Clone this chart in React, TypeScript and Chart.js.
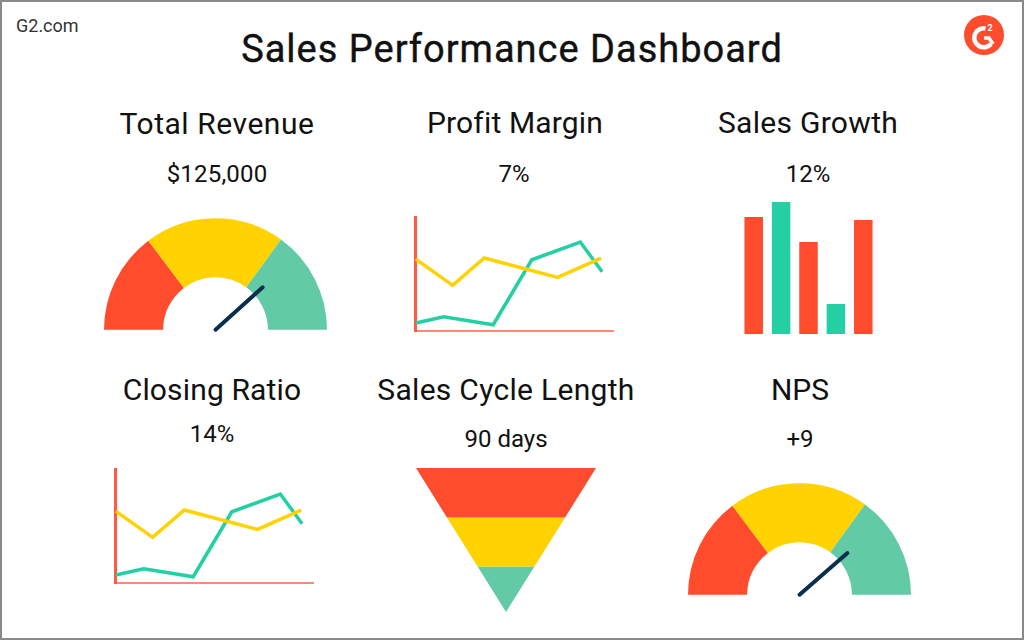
import { useEffect, useRef } from 'react'
import { Chart, registerables } from 'chart.js'
import type { ChartConfiguration, Plugin } from 'chart.js'

Chart.register(...registerables)

const RED = '#ff4c2d'
const YELLOW = '#ffd200'
const GAUGE_GREEN = '#62cba6'
const LINE_GREEN = '#24cfa3'
const NAVY = '#0c2e4e'
const FONT = 'Roboto, sans-serif'

// gauge segments, in degrees of the half circle
const revenueGauge = [53, 73, 54]
const revenueNeedle = 138
const npsGauge = [53, 73, 54]
const npsNeedle = 139

// x is 0-100 along the axis, y is 0-100 up the axis
const marginYellowX = [0.4, 19, 35, 72, 94]
const marginYellowY = [63, 40, 64, 47, 64]
const marginGreenX = [0.4, 14.5, 39.5, 59, 83.5, 94.5]
const marginGreenY = [7, 12.5, 5.5, 62.5, 78, 52]

const closingYellowX = [0.4, 19, 35, 72, 94]
const closingYellowY = [63, 40, 64, 47, 64]
const closingGreenX = [0.4, 14.5, 39.5, 59, 83.5, 94.5]
const closingGreenY = [7, 12.5, 5.5, 62.5, 78, 52]

const growthCategories = ['A', 'B', 'C', 'D', 'E']
const growthValues = [117, 132, 92, 30, 114]
const growthColors = [RED, LINE_GREEN, RED, LINE_GREEN, RED]

// remaining width of the funnel at each stage edge
const funnelLevels = [100, 65.6, 31.6, 0]
const funnelColors = [RED, YELLOW, GAUGE_GREEN]

const headings = ['Total Revenue', 'Profit Margin', 'Sales Growth', 'Closing Ratio', 'Sales Cycle Length', 'NPS']
const figures = ['$125,000', '7%', '12%', '14%', '90 days', '+9']

const needlePlugin: Plugin<'doughnut'> = {
  id: 'needle',
  afterDatasetsDraw(chart, _args, opts: any) {
    const arc: any = chart.getDatasetMeta(0).data[0]
    const angle = Math.PI + (opts.value / 180) * Math.PI
    const ctx = chart.ctx
    ctx.save()
    ctx.strokeStyle = NAVY
    ctx.lineWidth = 4
    ctx.lineCap = 'round'
    ctx.beginPath()
    ctx.moveTo(arc.x, arc.y)
    ctx.lineTo(arc.x + Math.cos(angle) * 63.5, arc.y + Math.sin(angle) * 63.5)
    ctx.stroke()
    ctx.restore()
  },
}

function gaugeConfig(values: number[], needle: number): ChartConfiguration<'doughnut'> {
  return {
    type: 'doughnut',
    data: {
      labels: ['Low', 'Mid', 'High'],
      datasets: [{ data: values, backgroundColor: [RED, YELLOW, GAUGE_GREEN], borderWidth: 0 }],
    },
    options: {
      responsive: false,
      animation: false,
      events: [],
      rotation: -90,
      circumference: 180,
      cutout: '47%',
      layout: { padding: { bottom: 4 } },
      plugins: { legend: { display: false }, tooltip: { enabled: false }, needle: { value: needle } } as any,
    },
    plugins: [needlePlugin],
  }
}

function pairs(xs: number[], ys: number[]) {
  return xs.map((x, i) => ({ x, y: ys[i] }))
}

function linesConfig(yellowX: number[], yellowY: number[], greenX: number[], greenY: number[]): ChartConfiguration<'scatter'> {
  const series = (data: { x: number; y: number }[], color: string) => ({
    data,
    showLine: true,
    borderColor: color,
    borderWidth: 3.5,
    pointRadius: 0,
    tension: 0,
    clip: false as any,
  })
  return {
    type: 'scatter',
    data: {
      datasets: [series(pairs(yellowX, yellowY), YELLOW), series(pairs(greenX, greenY), LINE_GREEN)],
    },
    options: {
      responsive: false,
      animation: false,
      events: [],
      layout: { padding: { left: 10, right: 10, top: 7, bottom: 7 } },
      plugins: { legend: { display: false }, tooltip: { enabled: false } },
      scales: {
        x: {
          min: 0,
          max: 100,
          grid: { display: false, drawTicks: false },
          ticks: { display: false },
          border: { color: '#ff8a78', width: 2 },
        },
        y: {
          min: 0,
          max: 100,
          grid: { display: false, drawTicks: false },
          ticks: { display: false },
          border: { color: '#ff5a46', width: 3 },
        },
      },
    },
  }
}

function barConfig(): ChartConfiguration<'bar'> {
  return {
    type: 'bar',
    data: {
      labels: growthCategories,
      datasets: [{
        data: growthValues,
        backgroundColor: growthColors,
        barPercentage: 0.675,
        categoryPercentage: 1,
      }],
    },
    options: {
      responsive: false,
      animation: false,
      events: [],
      plugins: { legend: { display: false }, tooltip: { enabled: false } },
      scales: {
        x: { display: false },
        y: { display: false, min: 0, max: 140 },
      },
    },
  }
}

function funnelConfig(): ChartConfiguration<'scatter'> {
  const datasets = funnelColors.map((color, i) => {
    const a = funnelLevels[i]
    const b = funnelLevels[i + 1]
    return {
      data: [
        { x: -a, y: a },
        { x: a, y: a },
        { x: b, y: b },
        { x: -b, y: b },
        { x: -a, y: a },
      ],
      showLine: true,
      fill: 'shape' as any,
      backgroundColor: color,
      borderWidth: 0,
      pointRadius: 0,
      tension: 0,
    }
  })
  return {
    type: 'scatter',
    data: { datasets },
    options: {
      responsive: false,
      animation: false,
      events: [],
      plugins: { legend: { display: false }, tooltip: { enabled: false } },
      scales: {
        x: { display: false, min: -100, max: 100 },
        y: { display: false, min: 0, max: 100 },
      },
    },
  }
}

function ChartBox({ left, top, width, height, config }: { left: number; top: number; width: number; height: number; config: () => ChartConfiguration<any> }) {
  const ref = useRef<HTMLCanvasElement>(null)

  useEffect(() => {
    if (!ref.current) return
    const chart = new Chart(ref.current, config())
    return () => chart.destroy()
  }, [config])

  return <canvas ref={ref} width={width} height={height} style={{ position: 'absolute', left, top, width, height }} />
}

function Label({ text, x, y, size, stroke = 0, spacing = 0.3 }: { text: string; x: number; y: number; size: number; stroke?: number; spacing?: number }) {
  return (
    <div style={{
      position: 'absolute', left: x - 300, top: y - 30, width: 600, height: 60, lineHeight: '60px',
      textAlign: 'center', fontSize: size, letterSpacing: spacing, color: '#111', whiteSpace: 'nowrap',
      WebkitTextStroke: `${stroke}px #111`,
    }}>
      {text}
    </div>
  )
}

const revenueConfig = () => gaugeConfig(revenueGauge, revenueNeedle)
const npsConfig = () => gaugeConfig(npsGauge, npsNeedle)
const marginConfig = () => linesConfig(marginYellowX, marginYellowY, marginGreenX, marginGreenY)
const closingConfig = () => linesConfig(closingYellowX, closingYellowY, closingGreenX, closingGreenY)

export default function App() {
  return (
    <div style={{
      position: 'absolute', left: 0, top: 0, width: 1024, height: 640, boxSizing: 'border-box',
      border: '2px solid #8a8a8a', background: '#fff', fontFamily: FONT, overflow: 'hidden',
    }}>
      <div style={{ position: 'absolute', left: -2, top: -2, width: 1024, height: 640 }}>
        <div style={{ position: 'absolute', left: 16, top: 16, fontSize: 18, lineHeight: '20px', color: '#333' }}>G2.com</div>
        <Label text="Sales Performance Dashboard" x={512} y={49} size={38} stroke={0.4} spacing={1} />

        <Label text={headings[0]} x={217} y={124} size={30} spacing={0.55} />
        <Label text={headings[1]} x={515} y={123} size={30} spacing={0.15} />
        <Label text={headings[2]} x={808} y={123} size={30} />
        <Label text={headings[3]} x={212} y={390} size={30} spacing={0.15} />
        <Label text={headings[4]} x={506} y={390} size={30} />
        <Label text={headings[5]} x={800} y={390} size={30} spacing={0} />

        <Label text={figures[0]} x={217} y={174} size={24} spacing={0.2} />
        <Label text={figures[1]} x={514} y={174} size={24} spacing={0} />
        <Label text={figures[2]} x={808} y={174} size={24} spacing={0} />
        <Label text={figures[3]} x={212} y={434} size={24} spacing={0} />
        <Label text={figures[4]} x={506} y={439} size={24} spacing={0} />
        <Label text={figures[5]} x={800} y={439} size={24} spacing={0} />

        <svg width={44} height={44} viewBox="0 0 44 44" style={{ position: 'absolute', left: 962, top: 13 }}>
          <circle cx={22} cy={22} r={20} fill={RED} />
          <path d="M23.5 15.5 A9.5 9.5 0 1 0 29 31" fill="none" stroke="#fff" strokeWidth={4.5} />
          <path d="M22 25 L27 25 L31 31" fill="none" stroke="#fff" strokeWidth={3.5} />
          <text x={25.5} y={18} fontSize={9} fontWeight={700} fill="#fff" fontFamily={FONT}>2</text>
        </svg>

        <ChartBox left={104} top={218} width={223} height={116} config={revenueConfig} />
        <ChartBox left={405} top={210} width={218} height={128} config={marginConfig} />
        <ChartBox left={740} top={194} width={137} height={140} config={barConfig} />
        <ChartBox left={105} top={462} width={218} height={128} config={closingConfig} />
        <ChartBox left={416} top={468} width={180} height={144} config={funnelConfig} />
        <ChartBox left={688} top={483} width={223} height={116} config={npsConfig} />
      </div>
    </div>
  )
}
